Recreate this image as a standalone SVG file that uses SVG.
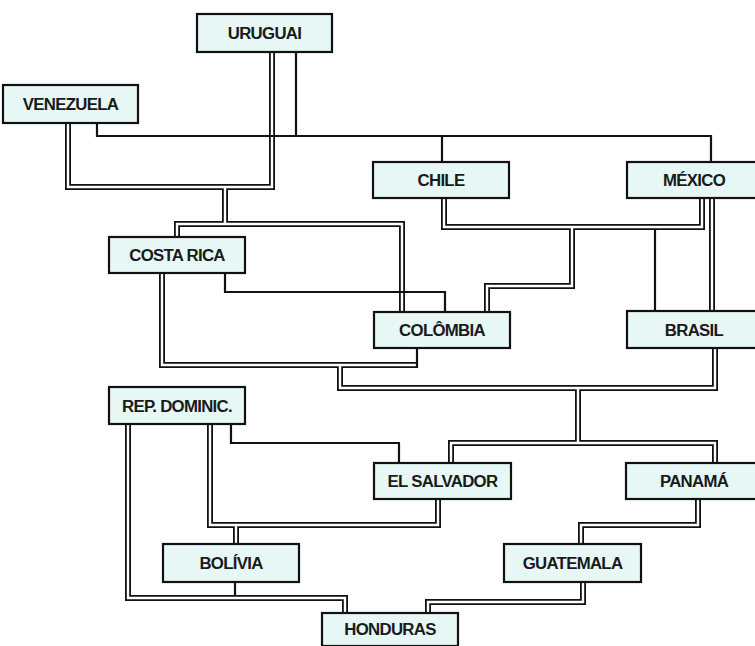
<svg xmlns="http://www.w3.org/2000/svg" width="755" height="646" viewBox="0 0 755 646">
<style>
.box{fill:#e6f7f5;stroke:#111;stroke-width:2.2}
.lbl{font-family:"Liberation Sans",Arial,sans-serif;font-weight:bold;font-size:16.8px;fill:#1a1a1a;text-anchor:middle;letter-spacing:-0.7px}
.dblo{fill:none;stroke:#111;stroke-width:6;stroke-linejoin:miter;stroke-linecap:butt}
.dbli{fill:none;stroke:#fff;stroke-width:2.4;stroke-linejoin:miter;stroke-linecap:butt}
.sgl{fill:none;stroke:#111;stroke-width:2.2;stroke-linejoin:miter}
</style>
<rect width="755" height="646" fill="#fff"/>
<g id="connectors">
<defs>
<path id="d1" d="M272,52 V187 H68 V123"/>
<path id="d2" d="M225,187 V224"/>
<path id="d3" d="M177,237 V224 H402 V312"/>
<path id="d4" d="M444,198 V227 H702 V198"/>
<path id="d5" d="M572,227 V286 H487 V312"/>
<path id="d6" d="M712,198 V311"/>
<path id="d7" d="M162,273 V365 H417"/>
<path id="d8" d="M340,365 V388 H715 V348"/>
<path id="d9" d="M578,388 V443"/>
<path id="d10" d="M451,463 V443 H715 V463"/>
<path id="d11" d="M210,424 V525 H438 V499"/>
<path id="d12" d="M236,525 V544"/>
<path id="d13" d="M128,424 V598 H345 V613"/>
<path id="d14" d="M698,499 V525 H581 V544"/>
<path id="d15" d="M583,582 V602 H428 V613"/>
</defs>
<g class="dblo">
<use href="#d1"/><use href="#d2"/><use href="#d3"/><use href="#d4"/><use href="#d5"/><use href="#d6"/><use href="#d7"/><use href="#d8"/><use href="#d9"/><use href="#d10"/><use href="#d11"/><use href="#d12"/><use href="#d13"/><use href="#d14"/><use href="#d15"/>
</g>
<g class="dbli">
<use href="#d1"/><use href="#d2"/><use href="#d3"/><use href="#d4"/><use href="#d5"/><use href="#d6"/><use href="#d7"/><use href="#d8"/><use href="#d9"/><use href="#d10"/><use href="#d11"/><use href="#d12"/><use href="#d13"/><use href="#d14"/><use href="#d15"/>
</g>
<g class="sgl">
<path d="M97,123 V136 H711 V162"/>
<path d="M296,52 V136"/>
<path d="M442,136 V162"/>
<path d="M655,230 V311"/>
<path d="M225,273 V292 H445 V312"/>
<path d="M417,348 V368"/>
<path d="M231,424 V443 H399 V463"/>
<path d="M235,582 V595.5"/>
</g>
</g>
<g id="n-uruguai"><rect class="box" x="197" y="14" width="135" height="38"/><text class="lbl" x="264.5" y="39">URUGUAI</text></g>
<g id="n-venezuela"><rect class="box" x="3" y="85" width="135" height="38"/><text class="lbl" x="70.5" y="110">VENEZUELA</text></g>
<g id="n-chile"><rect class="box" x="373" y="162" width="136" height="36"/><text class="lbl" x="441" y="186">CHILE</text></g>
<g id="n-mexico"><rect class="box" x="627" y="162" width="136" height="36"/><text class="lbl" x="694" y="186">MÉXICO</text></g>
<g id="n-costarica"><rect class="box" x="109" y="237" width="136" height="36"/><text class="lbl" x="177" y="261">COSTA RICA</text></g>
<g id="n-colombia"><rect class="box" x="374" y="312" width="136" height="36"/><text class="lbl" x="442" y="336">COLÔMBIA</text></g>
<g id="n-brasil"><rect class="box" x="627" y="311" width="136" height="37"/><text class="lbl" x="694" y="335.5">BRASIL</text></g>
<g id="n-repdominic"><rect class="box" x="109" y="387" width="136" height="37"/><text class="lbl" x="177" y="411.5">REP. DOMINIC.</text></g>
<g id="n-elsalvador"><rect class="box" x="374" y="463" width="137" height="36"/><text class="lbl" x="442.5" y="487">EL SALVADOR</text></g>
<g id="n-panama"><rect class="box" x="626" y="463" width="136" height="36"/><text class="lbl" x="694" y="487">PANAMÁ</text></g>
<g id="n-bolivia"><rect class="box" x="163" y="544" width="136" height="38"/><text class="lbl" x="231" y="569">BOLÍVIA</text></g>
<g id="n-guatemala"><rect class="box" x="504" y="544" width="137" height="38"/><text class="lbl" x="572.5" y="569">GUATEMALA</text></g>
<g id="n-honduras"><rect class="box" x="322" y="613" width="136" height="33"/><text class="lbl" x="390" y="635">HONDURAS</text></g>
</svg>
